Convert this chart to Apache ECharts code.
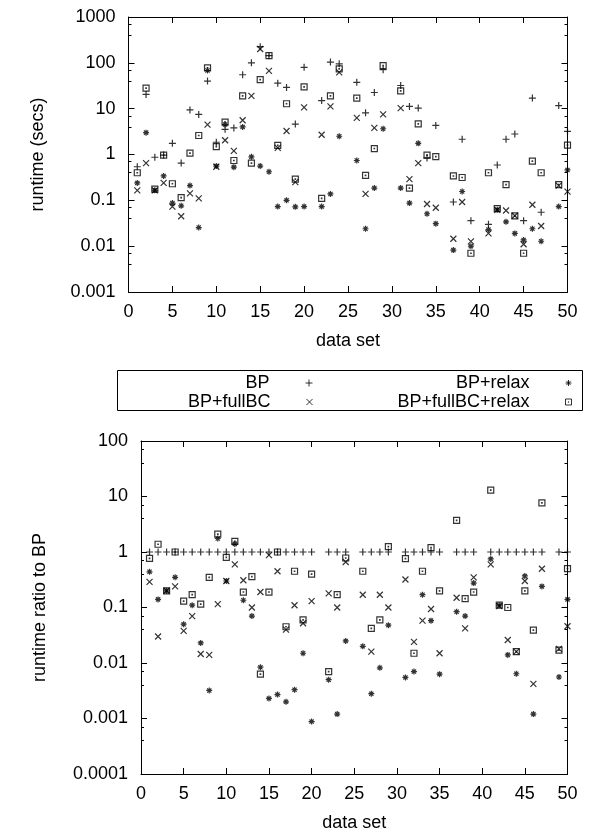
<!DOCTYPE html>
<html>
<head>
<meta charset="utf-8">
<script src="https://cdn.jsdelivr.net/npm/echarts@6/dist/echarts.min.js"></script>
<style>
  html, body { margin: 0; padding: 0; background: #fff; }
  #main { width: 608px; height: 836px; }
</style>
</head>
<body>
<div id="main"></div>
<script>
  // data sets that have a BP run (21, 25, 30, 36, 40, 48 are missing)
  var dataSet = [1,2,3,4,5,6,7,8,9,10,11,12,13,14,15,16,17,18,19,20,22,23,24,26,27,28,29,31,32,33,34,35,37,38,39,41,42,43,44,45,46,47,49,50];

  // runtime in seconds (top plot)
  var bpTime = [0.54,20.5,0.87,0.97,1.75,0.65,9.4,7.5,40,1.85, 3.55,3.8,55,100,225,143,36,29,4.6,80,
    15,104,95, 37.5,8.1,22.5,71, 32,11.2,10.3,0.84,4.3, 0.092,2.15,0.036, 0.03,0.59,2.15,2.8,0.036,17,0.055, 11.7,3.2];
  var fullBCTime = [0.165,0.65,0.165,0.24,0.073,0.045,0.142,0.11,4.5,0.54, 2.05,1.2,5.6,19,200,67,1.4,3.25,0.25,10.7,
    2.7,11.2,62, 6.3,0.138,3.8,7.5, 10.3,0.29,0.65,0.083,0.069, 0.0145,0.092,0.0127, 0.019,0.062,0.06,0.046,0.011,0.08,0.0275, 0.21,0.155];
  var relaxTime = [0.24,3.0,0.165,0.34,0.087,0.076,0.21,0.0255,68,0.56, 4.5,0.53,4.0,0.89,0.56,0.42,0.073,0.1,0.072,0.073,
    0.073,0.138,2.5, 0.74,0.024,0.185,3.65, 0.185,0.087,1.75,0.051,0.031, 0.0082,0.156,0.01, 0.023,0.062,0.034,0.019,0.0137,0.024,0.0128, 0.073,0.46];
  var fullBCRelaxTime = [0.4,28,0.175,0.97,0.23,0.115,1.07,2.6,78,1.48, 5.1,0.74,19,0.65,43,143,1.58,12.8,0.29,30,
    0.11,19,74, 17,0.35,1.35,87, 24.5,0.185,4.65,0.97,0.9, 0.34,0.315,0.007, 0.4,0.066,0.22,0.046,0.007,0.72,0.4, 0.22,1.6];

  // runtime ratio to BP (bottom plot)
  var bpRatio = [1,1,1,1,1,1,1,1,1,1, 1,1,1,1,1,1,1,1,1,1, 1,1,1, 1,1,1,1, 1,1,1,1,1, 1,1,1, 1,1,1,1,1,1,1, 1,1];
  var fullBCRatio = [0.29,0.03,0.2,0.24,0.038,0.07,0.0145,0.014,0.115,0.3, 0.6,0.31,0.1,0.19,0.88,0.45,0.04,0.11,0.052,0.13,
    0.18,0.1,0.66, 0.17,0.016,0.17,0.1, 0.32,0.024,0.058,0.094,0.015, 0.15,0.042,0.35, 0.6,0.106,0.026,0.016,0.3,0.0042,0.5, 0.018,0.046];
  var relaxRatio = [0.44,0.14,0.2,0.35,0.05,0.11,0.023,0.0032,1.75,0.3, 1.4,0.135,0.07,0.0084,0.0023,0.0027,0.002,0.0033,0.015,0.00088,
    0.005,0.0012,0.025, 0.02,0.0028,0.0082,0.048, 0.0055,0.007,0.17,0.058,0.0063, 0.084,0.07,0.275, 0.75,0.11,0.014,0.0064,0.37,0.0012,0.24, 0.0056,0.14];
  var fullBCRelaxRatio = [0.77,1.38,0.2,1.0,0.13,0.17,0.115,0.35,2.1,0.8, 1.55,0.19,0.36,0.0063,0.19,1.0,0.045,0.45,0.06,0.4,
    0.007,0.17,0.78, 0.45,0.042,0.06,1.25, 0.76,0.015,0.45,1.2,0.2, 3.7,0.145,0.19, 13,0.11,0.1,0.016,0.2,0.039,7.7, 0.017,0.5];

  var timeTicks = ['0.001', '0.01', '0.1', '1', '10', '100', '1000'];
  var ratioTicks = ['0.0001', '0.001', '0.01', '0.1', '1', '10', '100'];

  var FONT = 'Liberation Sans';
  var black = '#000';

  // gnuplot-like point types
  var SYM = {
    'BP': 'path://M5,0L5,10M0,5L10,5',
    'BP+fullBC': 'path://M0,0L10,10M0,10L10,0',
    'BP+relax': 'path://M5,0L5,10M0,5L10,5M1.5,1.5L8.5,8.5M1.5,8.5L8.5,1.5',
    'BP+fullBC+relax': 'path://M0,0L10,0L10,10L0,10ZM4.6,4.6L5.4,4.6L5.4,5.4L4.6,5.4Z'
  };
  var SIZE = { 'BP': 7, 'BP+fullBC': 6, 'BP+relax': 6, 'BP+fullBC+relax': 6 };

  function pairs(ys) {
    return dataSet.map(function (d, k) { return [d, ys[k]]; });
  }

  function logLabel(ticks, lowExp) {
    return function (v) { return ticks[Math.round(Math.log10(v)) - lowExp]; };
  }

  function xAxes(grid, name) {
    var base = {
      gridIndex: grid, type: 'value', min: 0, max: 50, interval: 5,
      axisLine: { show: true, onZero: false, lineStyle: { color: black, width: 1 } },
      axisTick: { show: true, inside: true, length: 6, lineStyle: { color: black } },
      splitLine: { show: false }
    };
    var bottom = Object.assign({}, base, {
      position: 'bottom', name: name, nameLocation: 'middle', nameGap: 40,
      nameTextStyle: { fontFamily: FONT, fontSize: 18, color: black },
      axisLabel: { margin: 11, fontFamily: FONT, fontSize: 18, color: black, showMinLabel: true, showMaxLabel: true }
    });
    var top = Object.assign({}, base, { position: 'top', axisLabel: { show: false } });
    return [bottom, top];
  }

  function yAxes(grid, min, max, name, gap, fmt) {
    var base = {
      gridIndex: grid, type: 'log', logBase: 10, min: min, max: max,
      axisLine: { show: true, onZero: false, lineStyle: { color: black, width: 1 } },
      axisTick: { show: true, inside: true, length: 6, lineStyle: { color: black } },
      minorTick: { show: true, splitNumber: 3, length: 3, lineStyle: { color: black } },
      splitLine: { show: false }, minorSplitLine: { show: false }
    };
    var left = Object.assign({}, base, {
      position: 'left', name: name, nameLocation: 'middle', nameGap: gap,
      nameTextStyle: { fontFamily: FONT, fontSize: 18, color: black },
      axisLabel: { margin: 13, fontFamily: FONT, fontSize: 18, color: black, formatter: fmt, showMinLabel: true, showMaxLabel: true }
    });
    var right = Object.assign({}, base, { position: 'right', axisLabel: { show: false } });
    return [left, right];
  }

  function scatter(name, xi, yi, ys) {
    return {
      name: name, type: 'scatter', xAxisIndex: xi, yAxisIndex: yi,
      symbol: SYM[name], symbolSize: SIZE[name],
      itemStyle: { color: 'rgba(0,0,0,0)', borderColor: black, borderWidth: 1.2 },
      emphasis: { disabled: true },
      data: pairs(ys)
    };
  }

  // one legend per entry so text is right aligned in two columns
  function legendItem(name, right, top) {
    return {
      data: [{ name: name, icon: SYM[name] }],
      right: right, top: top, align: 'right', padding: 0,
      itemWidth: SIZE[name], itemHeight: SIZE[name],
      itemStyle: { color: 'rgba(0,0,0,0)', borderColor: black, borderWidth: 1 },
      selectedMode: false,
      formatter: function (n) { return '{t|' + n + '}'; },
      textStyle: { rich: { t: { fontFamily: FONT, fontSize: 18, color: black, padding: [0, 31, 0, 0] } } }
    };
  }

  var chart = echarts.init(document.getElementById('main'));

  var option = {
    animation: false,
    backgroundColor: '#fff',
    grid: [
      { left: 128.5, top: 17, right: 40.5, height: 275 },
      { left: 141, top: 441, right: 40.5, height: 333 }
    ],
    xAxis: xAxes(0, 'data set').concat(xAxes(1, 'data set')),
    yAxis: yAxes(0, 0.001, 1000, 'runtime (secs)', 81, logLabel(timeTicks, -3))
      .concat(yAxes(1, 0.0001, 100, 'runtime ratio to BP', 92, logLabel(ratioTicks, -4))),
    legend: [
      legendItem('BP', 295, 374),
      legendItem('BP+relax', 36, 374),
      legendItem('BP+fullBC', 295, 393),
      legendItem('BP+fullBC+relax', 36, 393)
    ],
    graphic: [{
      type: 'rect', shape: { x: 117.5, y: 370.5, width: 465, height: 40 },
      style: { fill: 'none', stroke: black, lineWidth: 1 }, silent: true
    }],
    series: [
      scatter('BP', 0, 0, bpTime),
      scatter('BP+fullBC', 0, 0, fullBCTime),
      scatter('BP+relax', 0, 0, relaxTime),
      scatter('BP+fullBC+relax', 0, 0, fullBCRelaxTime),
      scatter('BP', 2, 2, bpRatio),
      scatter('BP+fullBC', 2, 2, fullBCRatio),
      scatter('BP+relax', 2, 2, relaxRatio),
      scatter('BP+fullBC+relax', 2, 2, fullBCRelaxRatio)
    ]
  };

  chart.setOption(option);
</script>
</body>
</html>
